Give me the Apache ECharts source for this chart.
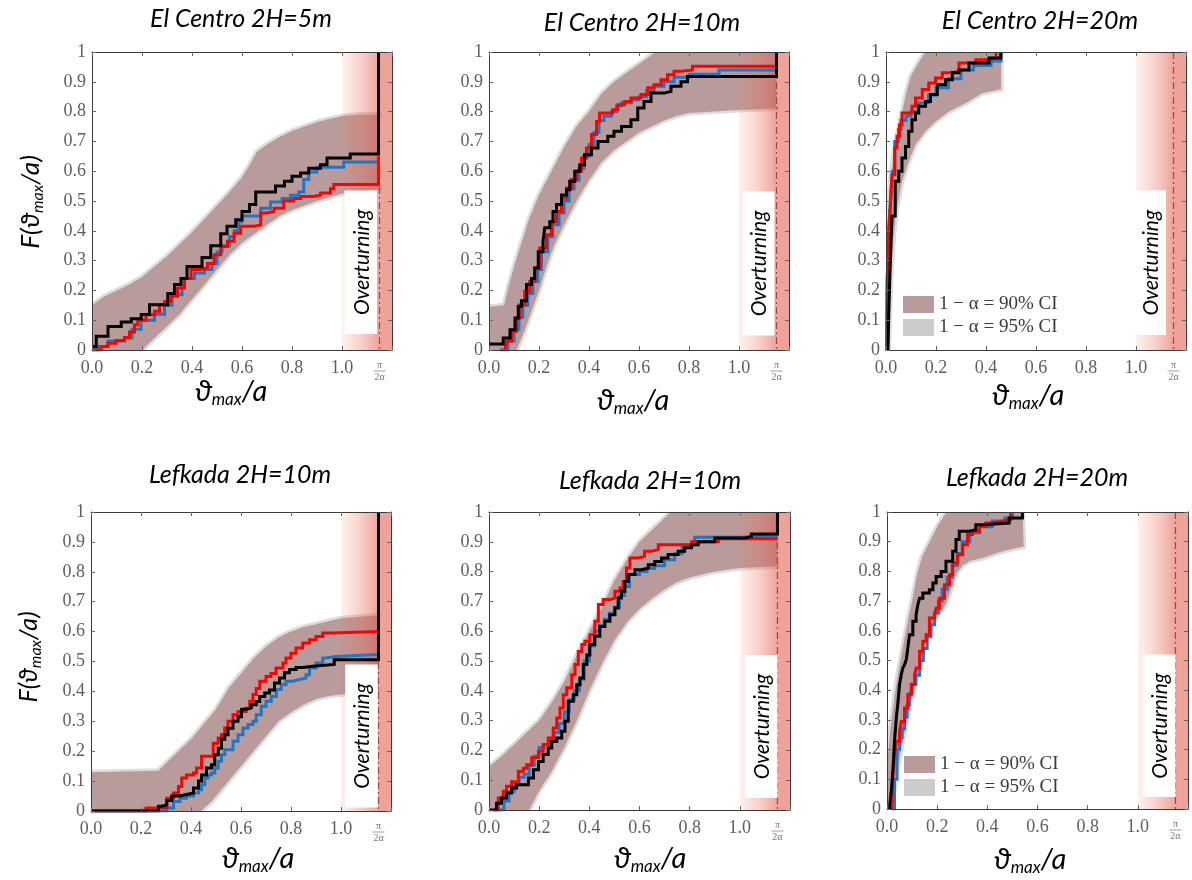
<!DOCTYPE html>
<html>
<head>
<meta charset="utf-8">
<script src="https://cdn.jsdelivr.net/npm/echarts@6/dist/echarts.min.js"></script>
<style>
  html, body { margin: 0; padding: 0; background: #fff; }
  #chart { width: 1192px; height: 880px; }
</style>
</head>
<body>
<div id="chart"></div>
<script>
// ---- Panel titles -------------------------------------------------------
const panelTitles = [
  'El Centro 2H=5m', 'El Centro 2H=10m', 'El Centro 2H=20m',
  'Lefkada 2H=10m', 'Lefkada 2H=10m', 'Lefkada 2H=20m'
];

// ---- Axis ticks ---------------------------------------------------------
const xTickLabels = ['0.0', '0.2', '0.4', '0.6', '0.8', '1.0'];
const yTickLabels = ['0', '0.1', '0.2', '0.3', '0.4', '0.5', '0.6', '0.7', '0.8', '0.9', '1'];
const ROCKING_ONSET = 1.0;   // ϑmax/a = 1
const HALF_PI_ALPHA = 1.15;  // π/(2α), overturning limit
const X_MAX = 1.2;

// ---- El Centro 2H=5m ----------------------------------------------------
const elc5Black = [[0,0.012],[0.017,0.046],[0.064,0.079],[0.117,0.094],[0.157,0.105],[0.197,0.119],[0.23,0.152],[0.303,0.19],[0.33,0.22],[0.356,0.24],[0.38,0.28],[0.44,0.31],[0.475,0.35],[0.515,0.39],[0.54,0.415],[0.575,0.437],[0.60,0.465],[0.63,0.488],[0.655,0.53],[0.734,0.55],[0.77,0.566],[0.80,0.583],[0.834,0.594],[0.867,0.61],[0.914,0.622],[0.94,0.644],[1.033,0.658],[1.146,1.0]];
const elc5Blue = [[0,0],[0.024,0.012],[0.064,0.03],[0.13,0.04],[0.16,0.07],[0.196,0.10],[0.25,0.12],[0.29,0.15],[0.32,0.185],[0.36,0.21],[0.37,0.24],[0.41,0.258],[0.45,0.27],[0.48,0.29],[0.50,0.33],[0.52,0.35],[0.55,0.38],[0.57,0.40],[0.585,0.43],[0.60,0.45],[0.675,0.476],[0.714,0.497],[0.76,0.508],[0.794,0.519],[0.827,0.53],[0.847,0.572],[0.867,0.597],[0.90,0.613],[1.007,0.631],[1.146,0.631]];
const elc5Red = [[0,0],[0.037,0.012],[0.064,0.023],[0.097,0.032],[0.13,0.042],[0.15,0.06],[0.17,0.085],[0.183,0.10],[0.216,0.118],[0.25,0.13],[0.27,0.152],[0.29,0.163],[0.316,0.18],[0.342,0.208],[0.37,0.24],[0.396,0.27],[0.435,0.275],[0.462,0.29],[0.489,0.32],[0.515,0.347],[0.542,0.365],[0.568,0.392],[0.595,0.415],[0.65,0.42],[0.675,0.46],[0.70,0.465],[0.728,0.476],[0.767,0.50],[0.807,0.508],[0.834,0.515],[0.887,0.52],[0.914,0.527],[0.954,0.541],[0.967,0.555],[1.146,0.65]];
const elc5Upper = [[0,0.15],[0.05,0.18],[0.1,0.2],[0.15,0.22],[0.2,0.245],[0.25,0.28],[0.3,0.315],[0.35,0.355],[0.4,0.395],[0.45,0.44],[0.5,0.485],[0.55,0.53],[0.6,0.58],[0.63,0.62],[0.66,0.665],[0.7,0.69],[0.75,0.715],[0.8,0.735],[0.85,0.75],[0.9,0.765],[0.95,0.775],[1.0,0.785],[1.07,0.79],[1.15,0.79]];
const elc5Lower = [[0,0],[0.2,0],[0.25,0.04],[0.3,0.08],[0.35,0.12],[0.4,0.17],[0.45,0.22],[0.5,0.27],[0.55,0.32],[0.6,0.36],[0.65,0.39],[0.7,0.42],[0.75,0.45],[0.8,0.47],[0.9,0.5],[1.0,0.525],[1.15,0.54]];

// ---- El Centro 2H=10m ---------------------------------------------------
const elc10Black = [[0,0.02],[0.057,0.04],[0.084,0.068],[0.104,0.107],[0.117,0.147],[0.13,0.165],[0.15,0.22],[0.17,0.24],[0.183,0.275],[0.197,0.33],[0.216,0.365],[0.223,0.41],[0.243,0.43],[0.256,0.465],[0.27,0.488],[0.29,0.52],[0.31,0.538],[0.323,0.566],[0.343,0.60],[0.363,0.622],[0.382,0.655],[0.41,0.678],[0.436,0.70],[0.475,0.717],[0.50,0.734],[0.53,0.75],[0.568,0.773],[0.595,0.812],[0.62,0.834],[0.648,0.862],[0.70,0.868],[0.728,0.885],[0.768,0.90],[0.794,0.918],[1.15,1.0]];
const elc10Blue = [[0.044,0],[0.075,0.03],[0.1,0.07],[0.12,0.11],[0.135,0.15],[0.155,0.19],[0.175,0.23],[0.195,0.27],[0.21,0.33],[0.235,0.38],[0.255,0.42],[0.28,0.46],[0.3,0.5],[0.32,0.54],[0.34,0.57],[0.36,0.61],[0.38,0.65],[0.40,0.69],[0.42,0.73],[0.44,0.77],[0.46,0.785],[0.49,0.80],[0.51,0.82],[0.53,0.83],[0.57,0.84],[0.60,0.85],[0.63,0.87],[0.66,0.885],[0.70,0.90],[0.74,0.915],[0.80,0.925],[0.92,0.94],[1.15,0.94]];
const elc10Red = [[0.064,0],[0.07,0.03],[0.09,0.063],[0.11,0.107],[0.124,0.152],[0.143,0.197],[0.163,0.23],[0.183,0.275],[0.203,0.342],[0.23,0.387],[0.25,0.43],[0.27,0.465],[0.29,0.51],[0.31,0.544],[0.33,0.572],[0.35,0.60],[0.37,0.644],[0.39,0.678],[0.41,0.723],[0.43,0.767],[0.442,0.795],[0.495,0.806],[0.515,0.823],[0.542,0.834],[0.568,0.846],[0.608,0.857],[0.635,0.88],[0.66,0.89],[0.688,0.907],[0.714,0.924],[0.74,0.935],[0.768,0.94],[0.814,0.952],[1.15,0.952]];
const elc10Upper = [[0,0.145],[0.06,0.15],[0.08,0.22],[0.1,0.28],[0.13,0.36],[0.16,0.44],[0.2,0.52],[0.25,0.6],[0.3,0.68],[0.35,0.75],[0.4,0.80],[0.45,0.86],[0.5,0.90],[0.55,0.93],[0.6,0.96],[0.65,0.99],[0.7,1.02],[1.15,1.02]];
const elc10Lower = [[0,0],[0.11,0],[0.14,0.06],[0.17,0.13],[0.2,0.2],[0.23,0.28],[0.26,0.35],[0.3,0.42],[0.35,0.5],[0.4,0.57],[0.45,0.63],[0.5,0.67],[0.55,0.7],[0.6,0.73],[0.65,0.75],[0.7,0.77],[0.75,0.785],[0.8,0.795],[0.9,0.80],[1.0,0.805],[1.15,0.81]];

// ---- El Centro 2H=20m ---------------------------------------------------
const elc20Black = [[0.008,0],[0.011,0.12],[0.017,0.29],[0.024,0.45],[0.037,0.566],[0.051,0.6],[0.064,0.644],[0.078,0.683],[0.091,0.734],[0.104,0.773],[0.118,0.795],[0.131,0.818],[0.158,0.834],[0.178,0.857],[0.205,0.89],[0.238,0.907],[0.265,0.93],[0.292,0.94],[0.332,0.963],[0.412,0.98],[0.459,1.0]];
const elc20Blue = [[0.003,0],[0.005,0.2],[0.01,0.4],[0.018,0.5],[0.025,0.6],[0.035,0.7],[0.05,0.74],[0.06,0.77],[0.08,0.785],[0.1,0.80],[0.13,0.83],[0.17,0.855],[0.2,0.88],[0.25,0.91],[0.3,0.94],[0.35,0.955],[0.42,0.97],[0.46,1.0]];
const elc20Red = [[0.003,0],[0.004,0.23],[0.011,0.387],[0.017,0.476],[0.024,0.588],[0.035,0.678],[0.044,0.717],[0.054,0.756],[0.064,0.795],[0.091,0.795],[0.104,0.818],[0.118,0.846],[0.145,0.874],[0.171,0.896],[0.198,0.913],[0.225,0.93],[0.252,0.935],[0.292,0.963],[0.359,0.974],[0.40,0.98],[0.44,1.0]];
const elc20Upper = [[0,0.2],[0.005,0.4],[0.015,0.55],[0.03,0.65],[0.045,0.72],[0.065,0.8],[0.08,0.86],[0.1,0.92],[0.12,0.95],[0.15,0.99],[0.17,1.02],[0.46,1.02]];
const elc20Lower = [[0,0],[0.01,0],[0.02,0.25],[0.03,0.38],[0.04,0.46],[0.064,0.566],[0.091,0.633],[0.118,0.69],[0.158,0.734],[0.198,0.767],[0.252,0.80],[0.319,0.829],[0.386,0.862],[0.46,0.875]];

// ---- Lefkada 2H=10m (left) ----------------------------------------------
const lef10aBlack = [[0,0],[0.27,0.016],[0.283,0.02],[0.303,0.035],[0.323,0.05],[0.356,0.055],[0.382,0.06],[0.41,0.077],[0.43,0.1],[0.442,0.12],[0.462,0.144],[0.482,0.155],[0.495,0.188],[0.509,0.21],[0.522,0.24],[0.535,0.255],[0.548,0.277],[0.568,0.30],[0.588,0.315],[0.602,0.34],[0.622,0.345],[0.641,0.355],[0.661,0.366],[0.675,0.383],[0.695,0.395],[0.714,0.405],[0.734,0.428],[0.754,0.445],[0.774,0.462],[0.794,0.473],[0.82,0.48],[0.847,0.484],[0.887,0.49],[0.973,0.506],[1.15,1.0]];
const lef10aBlue = [[0,0],[0.303,0.01],[0.33,0.032],[0.356,0.043],[0.382,0.05],[0.41,0.06],[0.43,0.071],[0.442,0.088],[0.455,0.11],[0.469,0.12],[0.482,0.127],[0.495,0.144],[0.509,0.166],[0.522,0.188],[0.535,0.205],[0.568,0.233],[0.588,0.255],[0.608,0.278],[0.628,0.289],[0.648,0.30],[0.661,0.322],[0.681,0.35],[0.70,0.367],[0.721,0.383],[0.741,0.406],[0.761,0.423],[0.78,0.434],[0.807,0.44],[0.834,0.445],[0.86,0.456],[0.874,0.478],[0.90,0.495],[0.927,0.512],[0.94,0.517],[0.98,0.523],[1.15,0.523]];
const lef10aRed = [[0,0],[0.22,0.01],[0.303,0.043],[0.33,0.06],[0.35,0.082],[0.363,0.11],[0.382,0.12],[0.41,0.127],[0.422,0.144],[0.442,0.183],[0.489,0.227],[0.509,0.244],[0.522,0.255],[0.535,0.278],[0.548,0.30],[0.568,0.322],[0.588,0.333],[0.62,0.344],[0.635,0.367],[0.648,0.39],[0.661,0.41],[0.675,0.434],[0.70,0.45],[0.72,0.46],[0.74,0.478],[0.768,0.495],[0.78,0.512],[0.80,0.528],[0.82,0.545],[0.847,0.562],[0.874,0.573],[0.90,0.584],[0.927,0.595],[0.967,0.60],[1.15,0.60]];
const lef10aUpper = [[0,0.13],[0.27,0.135],[0.3,0.16],[0.35,0.2],[0.4,0.24],[0.45,0.29],[0.5,0.34],[0.55,0.41],[0.6,0.46],[0.65,0.51],[0.7,0.55],[0.75,0.58],[0.8,0.6],[0.85,0.615],[0.9,0.625],[0.95,0.635],[1.0,0.645],[1.15,0.655]];
const lef10aLower = [[0,0],[0.44,0],[0.48,0.03],[0.52,0.07],[0.56,0.11],[0.6,0.15],[0.65,0.2],[0.7,0.25],[0.75,0.3],[0.8,0.33],[0.85,0.355],[0.9,0.375],[0.95,0.385],[1.0,0.39],[1.15,0.4]];

// ---- Lefkada 2H=10m (middle) --------------------------------------------
const lef10bBlack = [[0,0],[0.03,0.023],[0.05,0.04],[0.07,0.057],[0.09,0.074],[0.11,0.085],[0.157,0.107],[0.177,0.135],[0.197,0.163],[0.216,0.186],[0.236,0.208],[0.25,0.23],[0.27,0.242],[0.29,0.264],[0.303,0.298],[0.316,0.365],[0.336,0.387],[0.35,0.42],[0.363,0.443],[0.376,0.488],[0.39,0.52],[0.402,0.555],[0.422,0.583],[0.442,0.616],[0.462,0.633],[0.482,0.655],[0.502,0.678],[0.515,0.711],[0.528,0.734],[0.542,0.767],[0.555,0.79],[0.582,0.806],[0.608,0.812],[0.635,0.823],[0.661,0.834],[0.688,0.846],[0.714,0.857],[0.754,0.868],[0.78,0.88],[0.807,0.89],[0.834,0.90],[0.90,0.913],[1.02,0.918],[1.046,0.926],[1.15,1.0]];
const lef10bBlue = [[0.04,0],[0.06,0.03],[0.08,0.06],[0.1,0.09],[0.12,0.11],[0.14,0.12],[0.16,0.15],[0.18,0.18],[0.2,0.21],[0.22,0.22],[0.24,0.24],[0.26,0.26],[0.28,0.29],[0.3,0.33],[0.32,0.37],[0.34,0.4],[0.36,0.44],[0.38,0.5],[0.40,0.55],[0.42,0.6],[0.44,0.62],[0.46,0.64],[0.48,0.66],[0.5,0.68],[0.52,0.72],[0.54,0.75],[0.56,0.79],[0.6,0.80],[0.63,0.81],[0.66,0.82],[0.7,0.84],[0.74,0.86],[0.77,0.89],[0.82,0.915],[1.0,0.92],[1.15,0.92]];
const lef10bRed = [[0.02,0],[0.037,0.04],[0.057,0.063],[0.07,0.08],[0.09,0.095],[0.117,0.13],[0.137,0.14],[0.15,0.152],[0.17,0.175],[0.197,0.197],[0.216,0.22],[0.236,0.242],[0.256,0.275],[0.27,0.309],[0.283,0.342],[0.296,0.387],[0.31,0.41],[0.33,0.454],[0.343,0.488],[0.356,0.532],[0.37,0.555],[0.382,0.566],[0.402,0.588],[0.422,0.633],[0.436,0.69],[0.455,0.706],[0.482,0.711],[0.502,0.734],[0.522,0.745],[0.535,0.767],[0.548,0.812],[0.562,0.846],[0.595,0.851],[0.62,0.868],[0.648,0.874],[0.675,0.89],[0.807,0.90],[0.914,0.91],[1.15,0.91]];
const lef10bUpper = [[0,0.145],[0.05,0.18],[0.1,0.22],[0.15,0.26],[0.2,0.3],[0.25,0.36],[0.3,0.43],[0.35,0.52],[0.4,0.6],[0.45,0.68],[0.5,0.77],[0.55,0.84],[0.6,0.9],[0.65,0.94],[0.7,0.98],[0.75,1.02],[1.15,1.02]];
const lef10bLower = [[0,0],[0.16,0],[0.2,0.065],[0.25,0.13],[0.3,0.21],[0.35,0.3],[0.4,0.4],[0.45,0.49],[0.5,0.57],[0.55,0.63],[0.6,0.675],[0.65,0.71],[0.7,0.74],[0.75,0.765],[0.8,0.78],[0.9,0.80],[1.0,0.812],[1.15,0.818]];

// ---- Lefkada 2H=20m -----------------------------------------------------
const lef20Black = [[0.011,0],[0.011,0.015],[0.017,0.06],[0.024,0.138],[0.03,0.228],[0.037,0.306],[0.044,0.362],[0.05,0.419],[0.057,0.452],[0.063,0.475],[0.07,0.486],[0.077,0.503],[0.083,0.542],[0.09,0.587],[0.103,0.632],[0.116,0.654],[0.123,0.688],[0.13,0.71],[0.143,0.727],[0.169,0.738],[0.183,0.761],[0.196,0.783],[0.216,0.80],[0.235,0.834],[0.262,0.868],[0.275,0.907],[0.288,0.935],[0.328,0.94],[0.354,0.957],[0.381,0.963],[0.487,0.98],[0.54,1.0]];
const lef20Blue = [[0.02,0],[0.03,0.1],[0.04,0.2],[0.05,0.24],[0.06,0.27],[0.07,0.31],[0.08,0.35],[0.09,0.39],[0.1,0.42],[0.115,0.45],[0.13,0.5],[0.145,0.54],[0.16,0.58],[0.175,0.62],[0.19,0.66],[0.205,0.7],[0.22,0.74],[0.24,0.78],[0.26,0.82],[0.28,0.86],[0.3,0.9],[0.33,0.93],[0.37,0.95],[0.42,0.97],[0.47,0.98],[0.5,1.0]];
const lef20Red = [[0.017,0],[0.024,0.116],[0.03,0.183],[0.037,0.228],[0.05,0.261],[0.057,0.295],[0.07,0.34],[0.083,0.385],[0.097,0.419],[0.11,0.452],[0.116,0.475],[0.13,0.531],[0.143,0.565],[0.156,0.587],[0.169,0.643],[0.189,0.654],[0.196,0.677],[0.209,0.71],[0.229,0.755],[0.249,0.789],[0.262,0.828],[0.282,0.856],[0.302,0.89],[0.321,0.924],[0.341,0.935],[0.368,0.952],[0.394,0.963],[0.42,0.969],[0.46,0.974],[0.493,1.0]];
const lef20Upper = [[0,0.15],[0.015,0.28],[0.03,0.38],[0.045,0.46],[0.06,0.53],[0.08,0.62],[0.1,0.7],[0.12,0.79],[0.14,0.85],[0.17,0.9],[0.2,0.95],[0.23,0.99],[0.25,1.02],[0.54,1.02]];
const lef20Lower = [[0,0],[0.02,0],[0.037,0.12],[0.063,0.23],[0.09,0.34],[0.116,0.43],[0.143,0.53],[0.163,0.59],[0.183,0.63],[0.21,0.66],[0.235,0.69],[0.255,0.74],[0.275,0.79],[0.3,0.82],[0.33,0.835],[0.38,0.845],[0.45,0.865],[0.51,0.878],[0.545,0.884]];

// ---- Series grouped per panel -------------------------------------------
const panelData = [
  { black: elc5Black, blue: elc5Blue, red: elc5Red, upper: elc5Upper, lower: elc5Lower },
  { black: elc10Black, blue: elc10Blue, red: elc10Red, upper: elc10Upper, lower: elc10Lower },
  { black: elc20Black, blue: elc20Blue, red: elc20Red, upper: elc20Upper, lower: elc20Lower },
  { black: lef10aBlack, blue: lef10aBlue, red: lef10aRed, upper: lef10aUpper, lower: lef10aLower },
  { black: lef10bBlack, blue: lef10bBlue, red: lef10bRed, upper: lef10bUpper, lower: lef10bLower },
  { black: lef20Black, blue: lef20Blue, red: lef20Red, upper: lef20Upper, lower: lef20Lower }
];

// ---- Layout (pixels) and label box extents (axis units) ------------------
const layout = [
  { grid: [92, 52, 300, 298],  title: [241, 19],  xName: [231, 392], yName: [31, 202, 26], box: [1.01, 1.14, 0.054, 0.535] },
  { grid: [489, 52, 300, 298], title: [642, 23],  xName: [633, 401], box: [1.013, 1.142, 0.049, 0.532] },
  { grid: [886, 52, 300, 298], title: [1040, 21], xName: [1028, 396], box: [0.99, 1.12, 0.05, 0.536], legend: [903, 295] },
  { grid: [91, 512, 300, 299], title: [240, 475], xName: [258, 859], yName: [29, 657, 25], box: [1.017, 1.147, 0.012, 0.49] },
  { grid: [489, 512, 301, 298], title: [650, 481], xName: [650, 859], box: [1.02, 1.15, 0.04, 0.52] },
  { grid: [887, 512, 301, 297], title: [1037, 478], xName: [1030, 860], box: [1.02, 1.15, 0.04, 0.52], legend: [904, 755] }
];

// ---- Styles -------------------------------------------------------------
const BAND_COLOR = '#b99b9b';
const HALO_COLOR = '#dcdcdc';
const LEGEND_GRAY = '#cccccc';
const CI90 = '1 − α = 90% CI';
const CI95 = '1 − α = 95% CI';
const LINE_COLORS = { blue: '#1f76c2', red: '#ff0000', black: '#000000' };
const AXIS_COLOR = '#3a3a3a';
const TICK_FONT = '"Liberation Serif", "DejaVu Serif", serif';
const SANS = 'Lato, "DejaVu Sans", sans-serif';

const grids = [], xAxes = [], yAxes = [], series = [], graphics = [], legends = [];

layout.forEach((L, i) => {
  const d = panelData[i];
  grids.push({ left: L.grid[0], top: L.grid[1], width: L.grid[2], height: L.grid[3] });

  const commonX = { gridIndex: i, type: 'value', min: 0, max: X_MAX, interval: 0.2, splitLine: { show: false }, z: 10 };
  const commonY = { gridIndex: i, type: 'value', min: 0, max: 1, interval: 0.1, splitLine: { show: false }, z: 10 };
  const line = { show: true, onZero: false, lineStyle: { color: AXIS_COLOR, width: 1 } };
  const tick = { show: true, inside: true, length: 4, lineStyle: { color: '#666' } };

  xAxes.push(Object.assign({}, commonX, {
    position: 'bottom', axisLine: line, axisTick: tick,
    axisLabel: {
      margin: 9, color: '#5e5e5e', fontSize: 18, fontFamily: TICK_FONT,
      formatter: (v) => { const k = Math.round(v / 0.2); return k < xTickLabels.length ? xTickLabels[k] : ''; }
    }
  }));
  xAxes.push(Object.assign({}, commonX, { position: 'top', axisLine: line, axisTick: tick, axisLabel: { show: false } }));
  yAxes.push(Object.assign({}, commonY, {
    position: 'left', axisLine: line, axisTick: tick,
    axisLabel: {
      margin: 6, color: '#5e5e5e', fontSize: 18, fontFamily: TICK_FONT,
      formatter: (v) => yTickLabels[Math.round(v * 10)]
    }
  }));
  yAxes.push(Object.assign({}, commonY, { position: 'right', axisLine: line, axisTick: tick, axisLabel: { show: false } }));

  const xi = 2 * i, yi = 2 * i;
  const outline = d.upper.concat(d.lower.slice().reverse());
  const haloSegs = [d.upper, d.lower];
  const upLast = d.upper[d.upper.length - 1], loLast = d.lower[d.lower.length - 1];
  if (upLast[0] < ROCKING_ONSET) haloSegs.push([upLast, loLast]);

  // 95% band rim
  series.push({
    type: 'custom', name: CI95, xAxisIndex: xi, yAxisIndex: yi, clip: true, silent: true, z: 1,
    itemStyle: { color: LEGEND_GRAY },
    data: outline, encode: { x: 0, y: 1 },
    renderItem(params, api) {
      if (params.dataIndex !== 0) return null;
      return {
        type: 'group',
        children: haloSegs.map(seg => ({
          type: 'polyline',
          shape: { points: seg.map(p => api.coord(p)) },
          style: { stroke: HALO_COLOR, lineWidth: 5, fill: null, lineJoin: 'round', lineCap: 'round' }
        }))
      };
    }
  });
  // 90% band
  series.push({
    type: 'custom', name: CI90, xAxisIndex: xi, yAxisIndex: yi, clip: true, silent: true, z: 2,
    itemStyle: { color: BAND_COLOR },
    data: outline, encode: { x: 0, y: 1 },
    renderItem(params, api) {
      if (params.dataIndex !== 0) return null;
      return { type: 'polygon', shape: { points: outline.map(p => api.coord(p)) }, style: { fill: BAND_COLOR } };
    }
  });
  // overturning zone shading, π/(2α) marker and its label
  series.push({
    type: 'custom', xAxisIndex: xi, yAxisIndex: yi, clip: false, silent: true, z: 3,
    data: [[ROCKING_ONSET, 0]], encode: { x: 0, y: 1 },
    renderItem(params, api) {
      const a = api.coord([ROCKING_ONSET, 1]);
      const b = api.coord([HALF_PI_ALPHA, 0]);
      const c = api.coord([X_MAX, 0]);
      const grad = new echarts.graphic.LinearGradient(0, 0, 1, 0, [
        { offset: 0, color: 'rgba(240,120,96,0.10)' },
        { offset: 0.5, color: 'rgba(232,104,84,0.30)' },
        { offset: 1, color: 'rgba(224,86,70,0.55)' }
      ]);
      const lbl = { fill: '#777', fontFamily: TICK_FONT, fontSize: 10, align: 'center', verticalAlign: 'middle' };
      return {
        type: 'group',
        children: [
          { type: 'rect', shape: { x: a[0], y: a[1], width: b[0] - a[0], height: b[1] - a[1] }, style: { fill: grad } },
          { type: 'rect', shape: { x: b[0], y: a[1], width: c[0] - b[0], height: b[1] - a[1] }, style: { fill: 'rgba(224,86,70,0.55)' } },
          { type: 'line', shape: { x1: b[0], y1: a[1], x2: b[0], y2: b[1] }, style: { stroke: '#9f4640', lineWidth: 1.2, lineDash: [7, 3, 2, 3] } },
          { type: 'text', x: b[0], y: b[1] + 15, style: Object.assign({ text: 'π' }, lbl) },
          { type: 'line', shape: { x1: b[0] - 6, y1: b[1] + 21, x2: b[0] + 6, y2: b[1] + 21 }, style: { stroke: '#888', lineWidth: 0.8 } },
          { type: 'text', x: b[0], y: b[1] + 27, style: Object.assign({ text: '2α' }, lbl) }
        ]
      };
    }
  });
  // "Overturning" label box
  series.push({
    type: 'custom', xAxisIndex: xi, yAxisIndex: yi, clip: false, silent: true, z: 4,
    data: [[L.box[0], L.box[2]]], encode: { x: 0, y: 1 },
    renderItem(params, api) {
      const p = api.coord([L.box[0], L.box[3]]);
      const q = api.coord([L.box[1], L.box[2]]);
      return {
        type: 'group',
        children: [
          { type: 'rect', shape: { x: p[0], y: p[1], width: q[0] - p[0], height: q[1] - p[1] }, style: { fill: '#ffffff' } },
          { type: 'text', x: (p[0] + q[0]) / 2 + 1, y: (p[1] + q[1]) / 2, rotation: Math.PI / 2,
            style: { text: 'Overturning', fill: '#000', fontFamily: SANS, fontStyle: 'italic', fontSize: 21, align: 'center', verticalAlign: 'middle' } }
        ]
      };
    }
  });
  // empirical CDF step lines
  ['blue', 'red', 'black'].forEach(k => {
    series.push({
      type: 'line', xAxisIndex: xi, yAxisIndex: yi, data: d[k], step: 'end',
      symbol: 'none', clip: true, z: 5, silent: true,
      lineStyle: { color: LINE_COLORS[k], width: 3, join: 'miter' }
    });
  });

  // panel title
  graphics.push({
    type: 'text', x: L.title[0], y: L.title[1],
    style: { text: panelTitles[i], fill: '#000', fontFamily: SANS, fontStyle: 'italic', fontSize: 25, align: 'center', verticalAlign: 'middle' }
  });
  // x-axis name
  graphics.push({
    type: 'text', x: L.xName[0], y: L.xName[1],
    style: {
      text: '{v|ϑ}{s|max}{v|/a}', align: 'center', verticalAlign: 'middle', fill: '#000',
      rich: {
        v: { fontFamily: SANS, fontStyle: 'italic', fontSize: 29, fill: '#000' },
        s: { fontFamily: SANS, fontStyle: 'italic', fontSize: 17, fill: '#000', padding: [16, 0, 0, 0] }
      }
    }
  });
  // y-axis name on the left-hand panels
  if (L.yName) {
    graphics.push({
      type: 'text', x: L.yName[0], y: L.yName[1], rotation: Math.PI / 2,
      style: {
        text: '{v|F(ϑ}{s|max}{v|/a)}', align: 'center', verticalAlign: 'middle', fill: '#000',
        rich: {
          v: { fontFamily: SANS, fontStyle: 'italic', fontSize: L.yName[2], fill: '#000' },
          s: { fontFamily: SANS, fontStyle: 'italic', fontSize: 16, fill: '#000', padding: [14, 0, 0, 0] }
        }
      }
    });
  }
  if (L.legend) {
    legends.push({
      left: L.legend[0], top: L.legend[1], orient: 'vertical', padding: 0,
      itemWidth: 31, itemHeight: 17, itemGap: 4, icon: 'rect', selectedMode: false,
      data: [CI90, CI95],
      textStyle: { fontFamily: TICK_FONT, fontSize: 19, color: '#3a3a3a', lineHeight: 17 }
    });
  }
});

const chart = echarts.init(document.getElementById('chart'), null, { renderer: 'canvas' });
chart.setOption({
  backgroundColor: '#ffffff',
  animation: false,
  grid: grids,
  xAxis: xAxes,
  yAxis: yAxes,
  legend: legends,
  series: series,
  graphic: graphics
});
</script>
</body>
</html>
